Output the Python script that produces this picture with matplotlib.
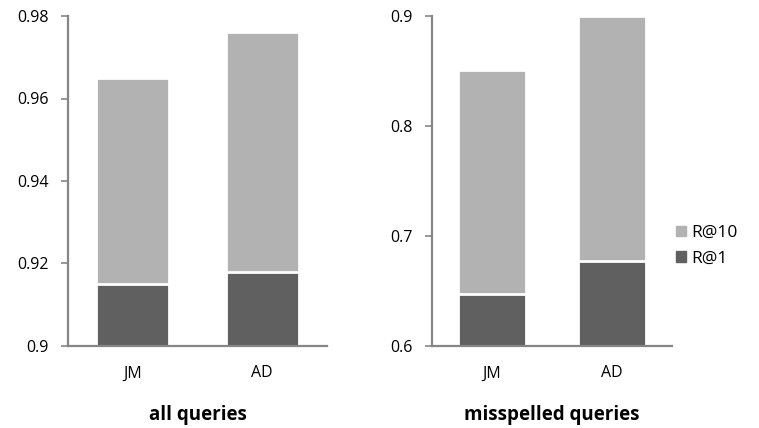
import matplotlib
matplotlib.use("Agg")
import matplotlib.pyplot as plt
from matplotlib.patches import Patch

plt.rcParams["font.family"] = ["Open Sans", "DejaVu Sans"]

methods = ["JM", "AD"]
all_r1 = [0.915, 0.918]
all_r10 = [0.965, 0.976]
mis_r1 = [0.647, 0.677]
mis_r10 = [0.851, 0.900]

LIGHT, DARK, SPINE = "#b2b2b2", "#606060", "#868686"


def panel(ax, r1, r10, ylim, ticks, ticklabels, title):
    x = range(len(methods))
    ax.bar(x, r10, width=0.56, color=LIGHT, edgecolor="white", lw=2, zorder=2)
    ax.bar(x, r1, width=0.56, color=DARK, edgecolor="white", lw=2, zorder=3)
    ax.set_xlim(-0.5, 1.5)
    ax.set_ylim(*ylim)
    ax.set_yticks(ticks)
    ax.set_yticklabels(ticklabels)
    ax.set_xticks(list(x))
    ax.set_xticklabels(methods)
    for s in ("top", "right"):
        ax.spines[s].set_visible(False)
    for s in ("left", "bottom"):
        ax.spines[s].set_color(SPINE)
        ax.spines[s].set_linewidth(1.6)
        ax.spines[s].set_zorder(4)
    ax.tick_params(axis="y", length=5, width=1.2, color=SPINE, labelsize=11.5, pad=9)
    ax.tick_params(axis="x", length=0, labelsize=11.5, pad=14)
    ax.set_xlabel(title, fontsize=13.5, fontweight="bold", labelpad=17)


fig = plt.figure(figsize=(7.59, 4.28), dpi=100)
W, H = 759, 428
ax1 = fig.add_axes([68 / W, 1 - 346 / H, (327 - 68) / W, 330 / H])
ax2 = fig.add_axes([432 / W, 1 - 346 / H, (672 - 432) / W, 330 / H])

panel(ax1, all_r1, all_r10, (0.9, 0.98), [0.9, 0.92, 0.94, 0.96, 0.98],
      ["0.9", "0.92", "0.94", "0.96", "0.98"], "all queries")
panel(ax2, mis_r1, mis_r10, (0.6, 0.9), [0.6, 0.7, 0.8, 0.9],
      ["0.6", "0.7", "0.8", "0.9"], "misspelled queries")

handles = [Patch(color=LIGHT, label="R@10"), Patch(color=DARK, label="R@1")]
fig.legend(handles=handles, loc="center left", bbox_to_anchor=(676 / W, 1 - 246 / H),
           frameon=False, fontsize=12.5, handlelength=0.55, handleheight=0.55,
           handletextpad=0.35, labelspacing=0.55, borderaxespad=0, borderpad=0)

fig.savefig("out.png", dpi=100)
